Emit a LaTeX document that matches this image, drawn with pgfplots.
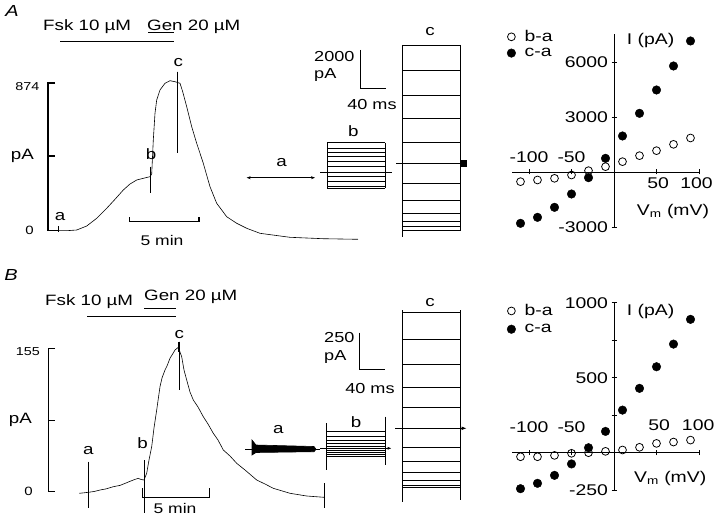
\documentclass[border=0pt]{standalone}
\usepackage{fontspec}
\setmainfont{Liberation Sans}[FakeStretch=1.25]
\usepackage{pgfplots}
\pgfplotsset{compat=1.18}
\usetikzlibrary{arrows.meta}

\newcommand\fs[1]{\fontsize{#1bp}{#1bp}\selectfont}
\tikzset{t/.style={inner sep=0pt}}

\begin{document}
\begin{tikzpicture}
\useasboundingbox (0,0) rectangle (720bp,523bp);

% background axis in pixel units of the reference (y downwards)
\begin{axis}[at={(0,0)}, anchor=south west, scale only axis,
    width=720bp, height=523bp, xmin=0, xmax=720, ymin=0, ymax=523,
    y dir=reverse, hide axis, clip=false, unbounded coords=jump,
    cycle list={{black, mark=none, line width=0.6pt}},
    every axis plot/.append style={black, mark=none, line width=0.6pt}]

% ---------- panel A : time course ----------
\node[t, font=\fs{16}\itshape] at (axis cs:12,11) {A};
\node[t, font=\fs{15}, anchor=west] at (axis cs:43,27) {Fsk 10 µM};
\node[t, font=\fs{15}, anchor=west] at (axis cs:147,27) {Gen 20 µM};
\addplot[line width=1pt] coordinates {(60,41.7)(174,41.7)};
\addplot[line width=1pt] coordinates {(148,32.3)(174,32.3)};

\addplot[line width=1.3pt] coordinates {(55,83)(48,83)(48,230.7)(55,230.7)};
\addplot[line width=1.3pt] coordinates {(48,156)(55,156)};
\node[t, font=\fs{11.5}, anchor=east] at (axis cs:39.5,87) {874};
\node[t, font=\fs{15}, anchor=east] at (axis cs:34,156) {pA};
\node[t, font=\fs{12}, anchor=east] at (axis cs:34,230.7) {0};

\addplot coordinates {(55,230.5)(66.7,230.7)(76.7,230)(86.7,226)(96.7,218.3)
  (106.7,208.3)(115,199.3)(123.3,190)(130,184)(136.7,180)(143.3,178.3)(150,176.7)
  (151.7,174)(153.3,140)(155,113.3)(156.7,100)(160,90)(165,83.3)(170,80.7)(175,81.7)
  (180,83.3)(182.7,91.7)(186.7,106.7)(191.7,126.7)(196.7,143.3)(203.3,163.3)
  (210,186.7)(216.7,203.3)(226.7,216.7)(236.7,223.3)(246.7,228.3)(260,233.3)
  (290,237.3)(323,238.7)(358,239.3)};
\addplot[line width=1.3pt] coordinates {(150.7,166.7)(150.7,193.3)};
\addplot coordinates {(177.3,71.7)(177.3,153.3)};
\addplot[line width=1.6pt] coordinates {(177.3,71.7)(177.3,84)};
\addplot coordinates {(58,226)(58,232)};
\node[t, font=\fs{15}] at (axis cs:60,217) {a};
\node[t, font=\fs{15}] at (axis cs:151,154) {b};
\node[t, font=\fs{15}] at (axis cs:178.3,63) {c};

\addplot[line width=1.2pt] coordinates {(129.3,217.3)(129.3,221.7)(199,221.7)(199,217.3)};
\node[t, font=\fs{14}] at (axis cs:162,240) {5 min};

% ---------- panel A : current families ----------
\addplot[{Stealth[length=4bp]}-{Stealth[length=4bp]}] coordinates {(246.7,177.7)(315,177.7)};
\node[t, font=\fs{15}] at (axis cs:281.7,163) {a};

\addplot coordinates {(327.3,142.7)(385,142.7)(0,nan)(327.3,148.3)(385,148.3)(0,nan)
  (327.3,152.7)(385,152.7)(0,nan)(327.3,156.7)(385,156.7)(0,nan)
  (327.3,166.7)(385,166.7)(0,nan)(327.3,176.7)(385,176.7)(0,nan)
  (327.3,181.7)(385,181.7)(0,nan)(327.3,186.7)(385,186.7)(0,nan)(327.3,188.3)(385,188.3)(0,nan)
  (327.3,142.7)(327.3,188.3)(0,nan)(385,142.7)(385,188.3)};
\addplot[line width=1.2pt] coordinates {(327.3,161.7)(385,161.7)};
\addplot[line width=0.9pt] coordinates {(320,172.3)(391.7,172.3)};
\node[t, font=\fs{15}] at (axis cs:353.3,131) {b};

\addplot coordinates {(402.3,45)(460.7,45)(0,nan)(402.3,70.7)(460.7,70.7)(0,nan)
  (402.3,95)(460.7,95)(0,nan)(402.3,118.3)(460.7,118.3)(0,nan)
  (402.3,142.3)(460.7,142.3)(0,nan)(402.3,183.3)(460.7,183.3)(0,nan)
  (402.3,200)(460.7,200)(0,nan)(402.3,213.3)(460.7,213.3)(0,nan)
  (402.3,221.7)(460.7,221.7)(0,nan)(402.3,226.7)(460.7,226.7)(0,nan)
  (402.3,230)(460.7,230)(0,nan)
  (402.3,45)(402.3,236.7)(0,nan)(460.7,45)(460.7,230)};
\addplot[line width=1.3pt] coordinates {(396,163.3)(464,163.3)};
\addplot[only marks, mark=square*, mark size=2.6bp] coordinates {(464,163.3)};
\node[t, font=\fs{15}] at (axis cs:430,32) {c};

\addplot[line width=1.1pt] coordinates {(360.7,50)(360.7,88.3)(385.7,88.3)};
\node[t, font=\fs{14.5}, anchor=west] at (axis cs:314,57) {2000};
\node[t, font=\fs{14.5}, anchor=west] at (axis cs:314,75) {pA};
\node[t, font=\fs{14.5}] at (axis cs:372,105) {40 ms};

% ---------- panel B : time course ----------
\node[t, font=\fs{16}\itshape] at (axis cs:11,275) {B};
\node[t, font=\fs{15}, anchor=west] at (axis cs:45,302) {Fsk 10 µM};
\node[t, font=\fs{15}, anchor=west] at (axis cs:144,297) {Gen 20 µM};
\addplot[line width=1pt] coordinates {(87.3,316.7)(176,316.7)};
\addplot[line width=1pt] coordinates {(144,308.3)(176,308.3)};

\addplot[line width=1.3pt] coordinates {(55,348.3)(48.3,348.3)(48.3,491.7)(55,491.7)};
\addplot[line width=1.3pt] coordinates {(48.3,420.7)(55,420.7)};
\node[t, font=\fs{11.5}, anchor=east] at (axis cs:40,352) {155};
\node[t, font=\fs{15}, anchor=east] at (axis cs:32,420) {pA};
\node[t, font=\fs{12}, anchor=east] at (axis cs:33,491.7) {0};

\addplot coordinates {(79.3,493.3)(84,492.8)(88.3,492.3)(94,491.5)(100,490)(106,488.9)
  (113.3,486.7)(120,485.4)(126.7,482.7)(133.3,480)(138.3,478.3)(141,479.5)(144,480)
  (146.7,473.3)(149,460)(151.7,446.7)(154,428)(156.7,410)(160,386.7)(162,378)(165,370)
  (167,366)(170,358.3)(172,355)(175,350)(178.3,347.3)(180,352)(181.7,356.7)(184,370)
  (186.7,380)(190,392)(193.3,400)(198,407)(203.3,416.7)(208,424)(213.3,433.3)(218,440)
  (223.3,450)(230,456)(236.7,463.3)(245,470)(256.7,480)(265,484)(273.3,488.3)
  (290,493.3)(306.7,496)(324,497.3)};
\addplot coordinates {(88.3,461.7)(88.3,508.3)};
\addplot[line width=0.9pt] coordinates {(144,460)(144,513)};
\addplot coordinates {(179.3,341.7)(179.3,390)};
\addplot[line width=1.8pt] coordinates {(179.3,341.7)(179.3,352)};
\addplot coordinates {(324,483)(324,508)};
\node[t, font=\fs{15}] at (axis cs:88.3,451) {a};
\node[t, font=\fs{15}] at (axis cs:142.7,443) {b};
\node[t, font=\fs{15}] at (axis cs:179.3,335) {c};

\addplot[line width=1.2pt] coordinates {(142.7,488.3)(142.7,497.3)(209.3,497.3)(209.3,488.3)};
\node[t, font=\fs{14}] at (axis cs:175,508.3) {5 min};

% ---------- panel B : current families ----------
\addplot[fill=black] coordinates {(252,440)(256,445)(314,446.5)(316,449.3)(314,451.7)(256,452.5)(252,455)} -- cycle;
\addplot coordinates {(245,449.3)(320,449.3)};
\node[t, font=\fs{15}] at (axis cs:278.3,430) {a};

\addplot coordinates {(326,431.7)(385,431.7)(0,nan)(326,436)(385,436)(0,nan)
  (326,440)(385,440)(0,nan)(326,443.3)(385,443.3)(0,nan)(326,446)(385,446)(0,nan)
  (326,450.7)(385,450.7)(0,nan)(326,452.7)(385,452.7)(0,nan)(326,454.3)(385,454.3)(0,nan)
  (326,456)(385,456)(0,nan)
  (326,423.3)(326,470)(0,nan)(385,416.7)(385,465)};
\addplot[line width=1pt, -{Latex[length=4bp]}] coordinates {(320,448.3)(391.7,448.3)};
\node[t, font=\fs{15}] at (axis cs:356,421.7) {b};

\addplot coordinates {(402.3,312.7)(460,312.7)(0,nan)(402.3,339.3)(460,339.3)(0,nan)
  (402.3,364)(460,364)(0,nan)(402.3,387.3)(460,387.3)(0,nan)
  (402.3,407.7)(460,407.7)(0,nan)(402.3,447.3)(460,447.3)(0,nan)
  (402.3,461.7)(460,461.7)(0,nan)(402.3,472.3)(460,472.3)(0,nan)
  (402.3,480)(460,480)(0,nan)(402.3,485)(460,485)(0,nan)(402.3,487.3)(460,487.3)(0,nan)
  (402.3,310)(402.3,501.7)(0,nan)(460,310)(460,500)};
\addplot[line width=1.3pt, -{Latex[length=5bp]}] coordinates {(395,428.3)(466.7,428.3)};
\node[t, font=\fs{15}] at (axis cs:430,303) {c};

\addplot[line width=1.1pt] coordinates {(359.3,332.7)(359.3,369.3)(385,369.3)};
\node[t, font=\fs{14.5}, anchor=west] at (axis cs:324,337.3) {250};
\node[t, font=\fs{14.5}, anchor=west] at (axis cs:324,356.7) {pA};
\node[t, font=\fs{14.5}] at (axis cs:370,388.3) {40 ms};
\end{axis}

% ---------- panel A : I-V ----------
\begin{axis}[at={(512bp,296bp)}, anchor=south west, scale only axis,
    width=187bp, height=192.5bp, xmin=-120, xmax=100, ymin=-3000, ymax=7500,
    axis lines=middle, axis line style={-, line width=0.8pt}, enlargelimits=false,
    clip=false, xtick={-100,-50,50,100}, xticklabels={},
    ytick={-3000,3000,6000}, yticklabels={-3000,3000,6000},
    yticklabel style={font=\fs{15.5}}, tick style={black, line width=0.8pt},
    major tick length=5bp,
    legend style={draw=none, fill=none, at={(axis cs:-126,7840)}, anchor=north west,
      font=\fs{15.5}, row sep=1bp, inner sep=0pt},
    legend cell align=left,
    legend image code/.code={\draw[#1] plot coordinates {(0.14cm,0cm)};}]
\addplot[only marks, mark=o, mark size=3.9bp, mark options={line width=0.8pt, fill=white}]
  coordinates {(-110,-527)(-90,-436)(-70,-345)(-50,-164)(-30,73)(-10,291)
  (10,564)(30,891)(50,1164)(70,1509)(90,1855)};
\addlegendentry{\hspace{7bp}b-a}
\addplot[only marks, mark=*, mark size=4.3bp, mark options={fill=black}]
  coordinates {(-110,-2800)(-90,-2473)(-70,-1927)(-50,-1200)(-30,-309)(-10,745)
  (10,1964)(30,3200)(50,4473)(70,5782)(90,7146)};
\addlegendentry{\hspace{7bp}c-a}
\node[font=\fs{15.5}] at (axis cs:-100,818) {-100};
\node[font=\fs{15.5}] at (axis cs:-50,818) {-50};
\node[font=\fs{15.5}] at (axis cs:52,-610) {50};
\node[font=\fs{15.5}] at (axis cs:97,-610) {100};
\node[t, font=\fs{15.5}, anchor=west] at (axis cs:15,7162) {I (pA)};
\node[t, font=\fs{15.5}, anchor=west] at (axis cs:26.7,-2165) {V\textsubscript{m} (mV)};
\end{axis}

% ---------- panel B : I-V ----------
\begin{axis}[at={(512bp,32.8bp)}, anchor=south west, scale only axis,
    width=187bp, height=187.5bp, xmin=-120, xmax=100, ymin=-250, ymax=1000,
    axis lines=middle, axis line style={-, line width=0.8pt}, enlargelimits=false,
    clip=false, xtick={-100,-50,50,100}, xticklabels={},
    ytick={-250,250,500,750,1000}, yticklabels={-250,,500,,1000},
    yticklabel style={font=\fs{15.5}}, tick style={black, line width=0.8pt},
    major tick length=5bp,
    legend style={draw=none, fill=none, at={(axis cs:-126,1002)}, anchor=north west,
      font=\fs{15.5}, row sep=3bp, inner sep=0pt},
    legend cell align=left,
    legend image code/.code={\draw[#1] plot coordinates {(0.14cm,0cm)};}]
\addplot[only marks, mark=o, mark size=3.9bp, mark options={line width=0.8pt, fill=white}]
  coordinates {(-110,-27)(-90,-27)(-70,-18)(-50,-4)(-30,0)(-10,9)
  (10,18)(30,36)(50,62)(70,71)(90,84)};
\addlegendentry{\hspace{7bp}b-a}
\addplot[only marks, mark=*, mark size=4.3bp, mark options={fill=black}]
  coordinates {(-110,-240)(-90,-204)(-70,-151)(-50,-75)(-30,33)(-10,142)
  (10,284)(30,429)(50,573)(70,724)(90,889)};
\addlegendentry{\hspace{7bp}c-a}
\node[font=\fs{15.5}] at (axis cs:-100,173) {-100};
\node[font=\fs{15.5}] at (axis cs:-50,173) {-50};
\node[font=\fs{15.5}] at (axis cs:53,185) {50};
\node[font=\fs{15.5}] at (axis cs:99,185) {100};
\node[t, font=\fs{15.5}, anchor=west] at (axis cs:15,940) {I (pA)};
\node[t, font=\fs{15.5}, anchor=west] at (axis cs:23.5,-171) {V\textsubscript{m} (mV)};
\end{axis}
\end{tikzpicture}
\end{document}
